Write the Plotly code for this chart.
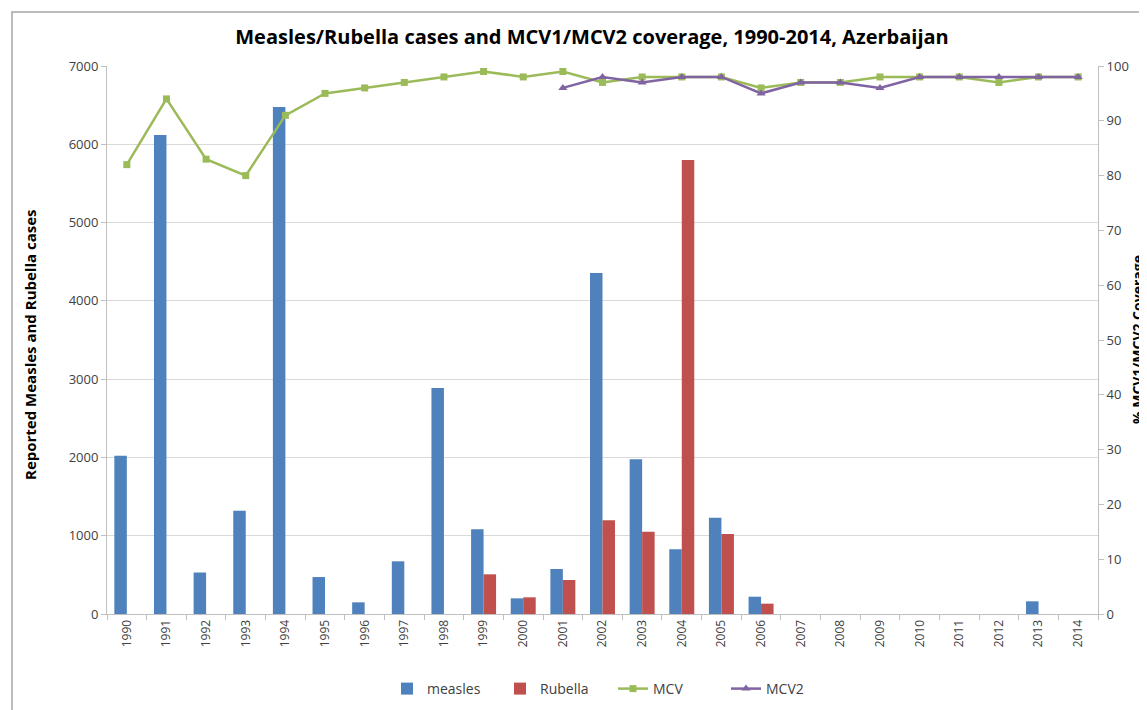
import plotly.graph_objects as go

years = [str(y) for y in range(1990, 2015)]
measles = [2020, 6120, 530, 1320, 6475, 472, 149, 673, 2887, 1082, 200, 575, 4356,
           1976, 826, 1230, 221, 0, 0, 0, 0, 0, 0, 162, 0]
rubella = [0, 0, 0, 0, 0, 0, 0, 0, 0, 507, 213, 434, 1197, 1051, 5800, 1022, 132,
           0, 0, 0, 0, 0, 0, 0, 0]
mcv = [82, 94, 83, 80, 91, 95, 96, 97, 98, 99, 98, 99, 97, 98, 98, 98, 96, 97, 97,
       98, 98, 98, 97, 98, 98]
mcv2 = [None] * 11 + [96, 98, 97, 98, 98, 95, 97, 97, 96, 98, 98, 98, 98, 98]

FONT = "Open Sans"
TXT = "#404040"
OFF = 8  # page body offset

W, H = 1147, 710
L, R, T, B = 107 - OFF, W - 1098 + OFF, 66 - OFF, H - 614 + OFF
PW, PH = W - L - R, H - T - B

fig = go.Figure()
fig.add_trace(go.Bar(x=years, y=measles, name="measles", marker_color="#4F81BD",
                     marker_line=dict(color="#4F81BD", width=0)))
fig.add_trace(go.Bar(x=years, y=rubella, name="Rubella", marker_color="#C0504D",
                     marker_line=dict(color="#C0504D", width=0)))
fig.add_trace(go.Scatter(x=years, y=mcv, name="MCV", yaxis="y2", mode="lines+markers",
                         line=dict(color="#9BBB59", width=2.5),
                         marker=dict(symbol="square", size=7, color="#9BBB59")))
fig.add_trace(go.Scatter(x=years, y=mcv2, name="MCV2", yaxis="y2", mode="lines+markers",
                         line=dict(color="#8064A2", width=2.5),
                         marker=dict(symbol="triangle-up", size=8, color="#8064A2")))

fig.update_layout(
    width=W, height=H,
    margin=dict(l=L, r=R, t=T, b=B, autoexpand=False),
    paper_bgcolor="white", plot_bgcolor="white",
    font=dict(family=FONT, size=13, color=TXT),
    barmode="group", bargap=0.37, bargroupgap=0,
    title=dict(text="<b>Measles/Rubella cases and MCV1/MCV2 coverage, 1990-2014, Azerbaijan</b>",
               x=(592 - OFF) / W, xanchor="center", y=1 - (37 - OFF) / H, yanchor="middle",
               font=dict(family=FONT, size=20, color="#000000")),
    xaxis=dict(type="category", range=[-0.5, len(years) - 0.5], tickangle=-90,
               tickson="boundaries", ticks="outside",
               ticklen=5, tickcolor="#BFBFBF", showline=True, linecolor="#BFBFBF",
               showgrid=False, automargin=False, tickfont=dict(size=12, color=TXT)),
    yaxis=dict(range=[0, 7000], dtick=1000, showgrid=True, gridcolor="#D9D9D9",
               showline=True, linecolor="#BFBFBF", ticks="outside", ticklen=5,
               tickcolor="#BFBFBF", zeroline=False, automargin=False,
               tickfont=dict(size=13, color=TXT)),
    yaxis2=dict(range=[0, 100], dtick=10, overlaying="y", side="right", showgrid=False,
                showline=True, linecolor="#BFBFBF", ticks="outside", ticklen=5,
                tickcolor="#BFBFBF", zeroline=False, automargin=False,
                tickfont=dict(size=13, color=TXT)),
    legend=dict(orientation="h", xref="container", x=(613 - OFF) / W, xanchor="center",
                yref="container", y=1 - (689 - OFF) / H, yanchor="middle",
                entrywidth=68, entrywidthmode="pixels",
                font=dict(size=14, color=TXT), traceorder="normal", itemwidth=30),
    shapes=[dict(type="rect", xref="paper", yref="paper", x0=(12 - OFF - L) / PW,
                 x1=1.2, y0=-0.4, y1=1 + (T - (12 - OFF)) / PH,
                 line=dict(color="#A6A6A6", width=1.5), layer="below")],
    annotations=[
        dict(text="<b>Reported Measles and Rubella cases</b>", textangle=-90,
             xref="paper", yref="paper", x=(30 - OFF - L) / PW, y=(614 - 345) / 548,
             xanchor="center", yanchor="middle", showarrow=False,
             font=dict(size=15, color="#000000")),
        dict(text="<b>% MCV1/MCV2 Coverage</b>", textangle=-90,
             xref="paper", yref="paper", x=(1137 - OFF - L) / PW, y=0.5,
             xanchor="center", yanchor="middle", showarrow=False,
             font=dict(size=14, color="#000000")),
    ],
)

fig.write_html("out.html")
